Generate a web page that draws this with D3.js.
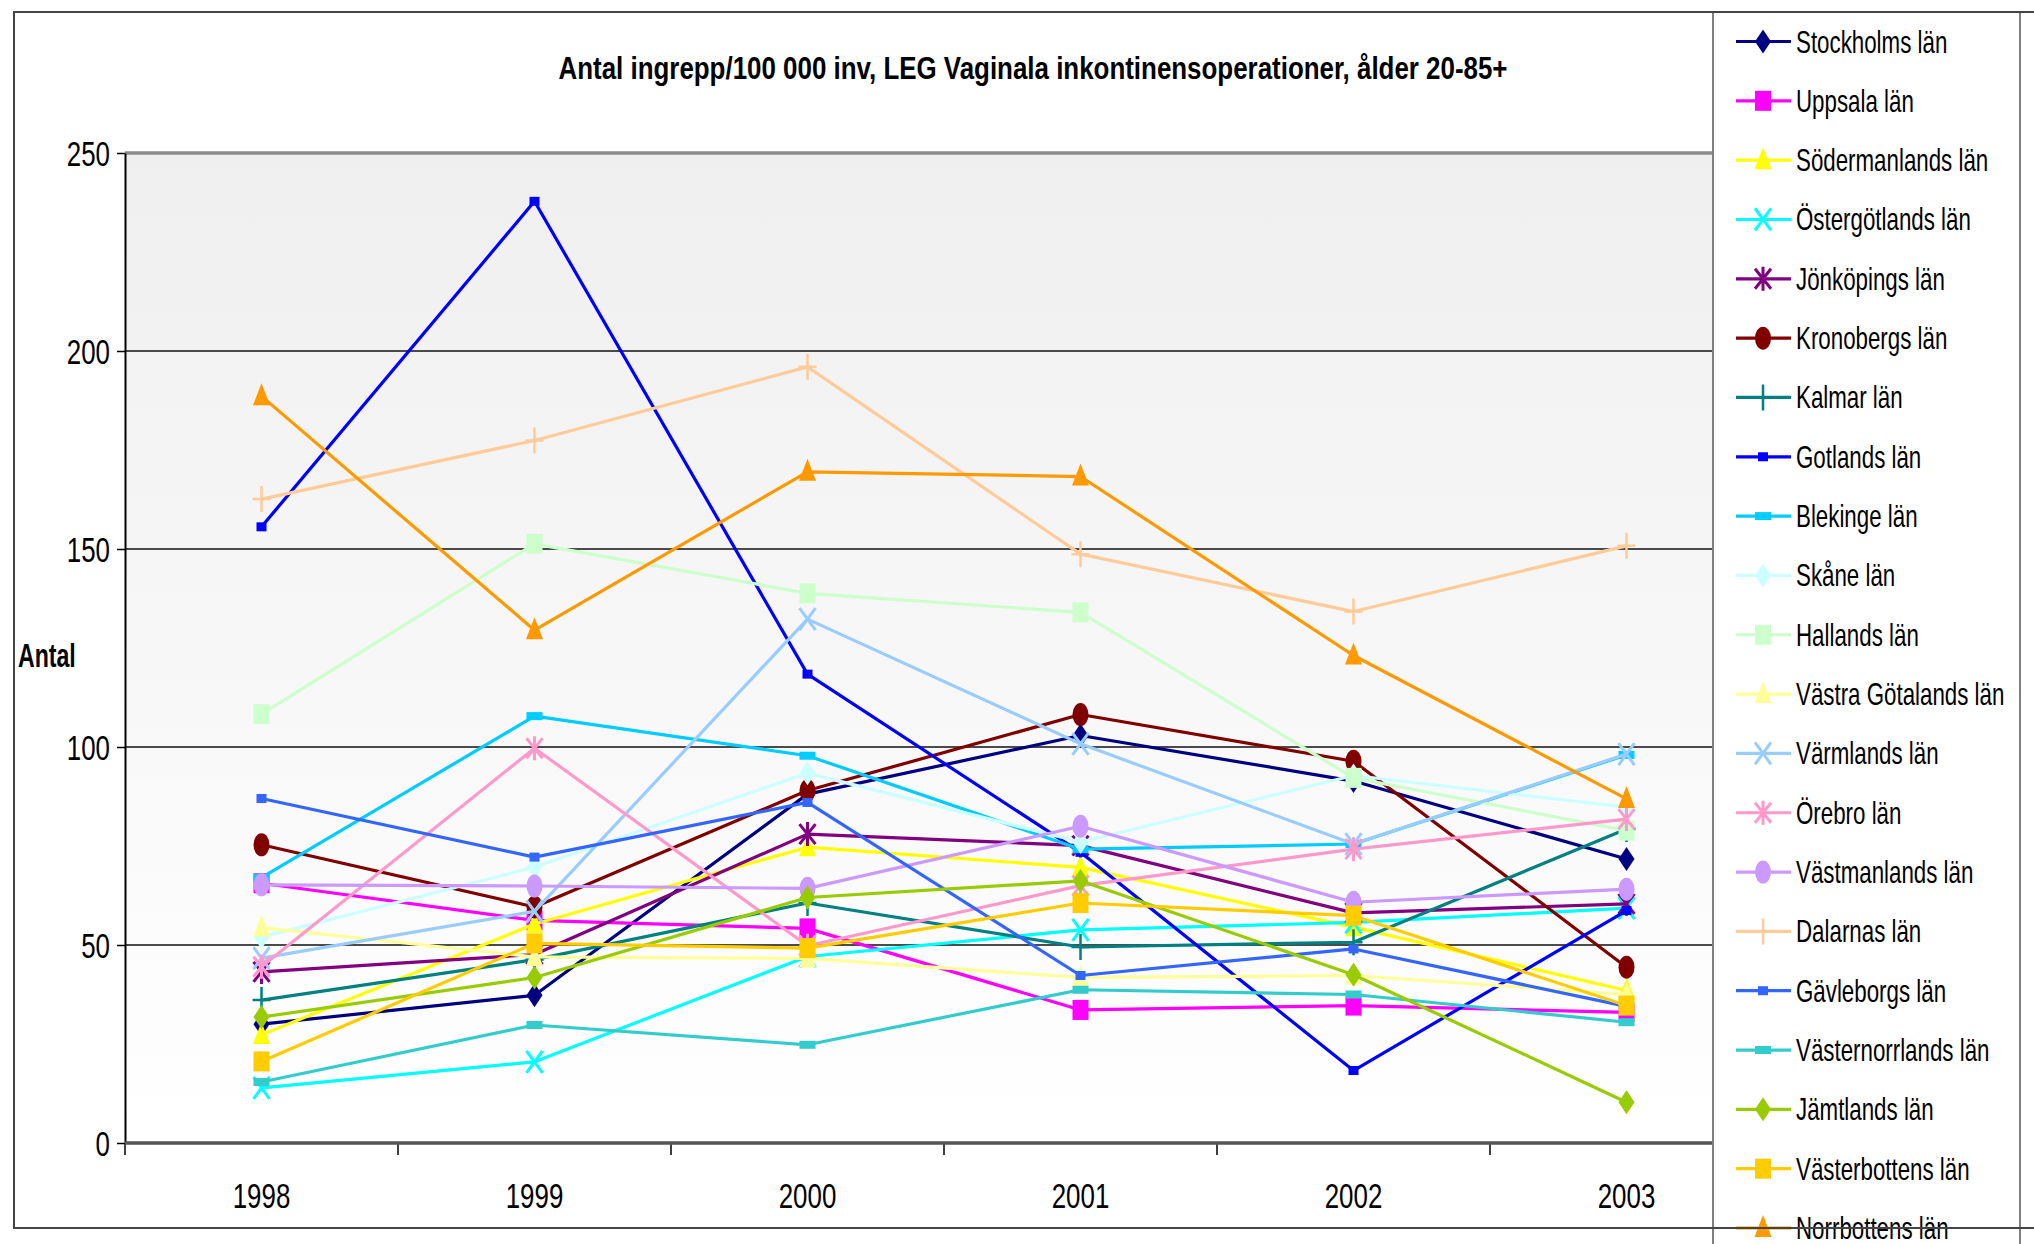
<!DOCTYPE html>
<html><head><meta charset="utf-8">
<script src="https://cdn.jsdelivr.net/npm/d3@7"></script>
<style>
body{margin:0;background:#fff}
svg{display:block}
text{font-family:"Liberation Sans",Arial,sans-serif;fill:#000}
</style>
</head><body>
<svg id="chart" width="2034" height="1244"></svg>
<script>
// ---------- DATA ----------
const years = ["1998","1999","2000","2001","2002","2003"];
const yTicks = [0,50,100,150,200,250];
const titleText = "Antal ingrepp/100 000 inv, LEG Vaginala inkontinensoperationer, ålder 20-85+";
const yTitle = "Antal";
const counties = ["Stockholms län","Uppsala län","Södermanlands län","Östergötlands län","Jönköpings län",
  "Kronobergs län","Kalmar län","Gotlands län","Blekinge län","Skåne län","Hallands län",
  "Västra Götalands län","Värmlands län","Örebro län","Västmanlands län","Dalarnas län",
  "Gävleborgs län","Västernorrlands län","Jämtlands län","Västerbottens län","Norrbottens län"];

const stockholms      = [30.0, 37.3, 88.1, 102.9, 91.4, 71.7];
const uppsala         = [65.6, 56.2, 54.2, 33.6, 34.7, 33.0];
const sodermanlands   = [27.3, 55.3, 74.7, 69.6, 54.5, 38.5];
const ostergotlands   = [13.9, 20.5, 47.1, 53.8, 55.7, 59.3];
const jonkopings      = [43.2, 47.6, 78.0, 75.1, 58.1, 60.4];
const kronobergs      = [75.3, 59.6, 89.0, 108.2, 96.4, 44.4];
const kalmar          = [36.1, 46.3, 60.6, 49.5, 50.7, 79.3];
const gotlands        = [155.6, 237.8, 118.4, 73.4, 18.3, 58.7];
const blekinge        = [67.0, 107.8, 97.8, 74.2, 75.5, 98.0];
const skane           = [52.0, 69.7, 93.4, 76.0, 92.8, 84.8];
const hallands        = [108.3, 151.3, 138.8, 134.0, 92.2, 78.9];
const vastraGotalands = [54.4, 47.0, 46.6, 41.8, 42.3, 37.5];
const varmlands       = [46.7, 58.5, 132.3, 100.8, 75.5, 98.2];
const orebro          = [44.5, 99.7, 49.8, 65.0, 74.2, 81.8];
const vastmanlands    = [65.2, 64.9, 64.3, 80.0, 60.8, 64.1];
const dalarnas        = [162.6, 177.4, 196.0, 148.7, 134.2, 150.8];
const gavleborgs      = [87.0, 72.2, 86.0, 42.3, 49.0, 34.5];
const vasternorrlands = [15.4, 29.8, 24.8, 38.7, 37.5, 30.5];
const jamtlands       = [31.8, 41.8, 62.0, 66.2, 42.5, 10.3];
const vasterbottens   = [20.6, 50.4, 49.2, 60.6, 57.4, 34.7];
const norrbottens     = [188.6, 129.5, 169.5, 168.3, 123.1, 86.9];

const seriesValues = [stockholms, uppsala, sodermanlands, ostergotlands, jonkopings, kronobergs,
  kalmar, gotlands, blekinge, skane, hallands, vastraGotalands, varmlands, orebro, vastmanlands,
  dalarnas, gavleborgs, vasternorrlands, jamtlands, vasterbottens, norrbottens];

// ---------- STYLE ----------
const colors = ["#000080","#FF00FF","#FFFF00","#00FFFF","#800080","#800000","#008080","#0000FF",
  "#00CCFF","#CCFFFF","#CCFFCC","#FFFF99","#99CCFF","#FF99CC","#CC99FF","#FFCC99","#3366FF",
  "#33CCCC","#99CC00","#FFCC00","#FF9900"];
const markers = ["diamond","square","triangle","x","star","circle","plus","smallsq","dash","diamond",
  "square","triangle","x","star","circle","plus","smallsq","dash","diamond","square","triangle"];

const series = counties.map((name,i)=>({name, values: seriesValues[i], color: colors[i], marker: markers[i]}));

// ---------- LAYOUT ----------
const svg = d3.select("#chart");
const W = 2034, H = 1244;
const plot = {left:125, right:1763, top:153, bottom:1143};
const x = d3.scaleBand().domain(years).range([plot.left, plot.right]).padding(0);
const y = d3.scaleLinear().domain([0,250]).range([plot.bottom, plot.top]);
const cx = d => x(d) + x.bandwidth()/2;
const SQ = 0.74; // horizontal squeeze of the rendered text

const defs = svg.append("defs");
const grad = defs.append("linearGradient").attr("id","bg").attr("x1",0).attr("y1",0).attr("x2",0).attr("y2",1);
grad.append("stop").attr("offset","0%").attr("stop-color","#efefef");
grad.append("stop").attr("offset","100%").attr("stop-color","#ffffff");

// plot background
svg.append("rect").attr("x",plot.left).attr("y",plot.top)
  .attr("width",plot.right-plot.left).attr("height",plot.bottom-plot.top).attr("fill","url(#bg)");

// gridlines
svg.append("g").selectAll("line").data(yTicks.filter(t=>t>0 && t<250)).join("line")
  .attr("x1",plot.left).attr("x2",plot.right).attr("y1",d=>y(d)).attr("y2",d=>y(d))
  .attr("stroke","#111").attr("stroke-width",1.3);
// top border of plot area
svg.append("line").attr("x1",plot.left).attr("x2",plot.right).attr("y1",y(250)).attr("y2",y(250))
  .attr("stroke","#8c8c8c").attr("stroke-width",3.5);

// y axis
const yAxis = svg.append("g").attr("transform",`translate(${plot.left},0)`)
  .call(d3.axisLeft(y).tickValues(yTicks).tickSize(8).tickSizeOuter(0));
yAxis.select(".domain").attr("stroke","#000").attr("stroke-width",2);
yAxis.selectAll(".tick line").attr("stroke","#000").attr("stroke-width",1.5);
yAxis.selectAll(".tick text").attr("font-size",35).attr("font-family","Liberation Sans, Arial, sans-serif")
  .attr("fill","#000").attr("x",-15/SQ).attr("dy","0.36em").attr("transform",`scale(${SQ},1)`);

// x axis: labels at band centres, ticks at band boundaries
const xAxis = svg.append("g").attr("transform",`translate(0,${plot.bottom})`)
  .call(d3.axisBottom(x).tickSize(0).tickPadding(0));
xAxis.select(".domain").remove();
xAxis.selectAll(".tick text").attr("font-size",35).attr("font-family","Liberation Sans, Arial, sans-serif")
  .attr("fill","#000").attr("dy",0).attr("y",65).attr("transform",`scale(${SQ},1)`);
const bounds = years.map(d=>x(d)).concat([plot.right]);
svg.append("g").selectAll("line").data(bounds).join("line")
  .attr("x1",d=>d).attr("x2",d=>d).attr("y1",plot.bottom).attr("y2",plot.bottom+12)
  .attr("stroke","#000").attr("stroke-width",1.5);
svg.append("line").attr("x1",plot.left).attr("x2",plot.right).attr("y1",plot.bottom).attr("y2",plot.bottom)
  .attr("stroke","#555").attr("stroke-width",3.5);

// marker drawing
function drawMarker(g, type, color){
  switch(type){
    case "diamond": g.append("path").attr("d","M0,-12L8,0L0,12L-8,0Z").attr("fill",color); break;
    case "square": g.append("rect").attr("x",-8).attr("y",-10).attr("width",16).attr("height",20).attr("fill",color); break;
    case "triangle": g.append("path").attr("d","M0,-13L8.5,9L-8.5,9Z").attr("fill",color); break;
    case "circle": g.append("ellipse").attr("rx",8).attr("ry",11.5).attr("fill",color); break;
    case "x":
      g.append("path").attr("d","M-8,-11L8,11M-8,11L8,-11").attr("stroke",color).attr("stroke-width",3).attr("fill","none"); break;
    case "star":
      g.append("path").attr("d","M-8,-10L8,10M-8,10L8,-10M0,-12L0,12").attr("stroke",color).attr("stroke-width",3).attr("fill","none"); break;
    case "plus":
      g.append("path").attr("d","M0,-13L0,13M-9,0L9,0").attr("stroke",color).attr("stroke-width",2.5).attr("fill","none"); break;
    case "smallsq": g.append("rect").attr("x",-5).attr("y",-4.5).attr("width",10).attr("height",9).attr("fill",color); break;
    case "dash": g.append("rect").attr("x",-8).attr("y",-4).attr("width",16).attr("height",8).attr("fill",color); break;
  }
}

// series
const line = d3.line().x((v,i)=>cx(years[i])).y(v=>y(v));
series.forEach(s=>{
  const g = svg.append("g");
  g.append("path").attr("d",line(s.values)).attr("fill","none").attr("stroke",s.color)
    .attr("stroke-width",3.2).attr("stroke-linejoin","round");
  s.values.forEach((v,i)=>{
    const mg = g.append("g").attr("transform",`translate(${cx(years[i])},${y(v)})`);
    drawMarker(mg, s.marker, s.color);
  });
});

// title
svg.append("text").attr("x",1033).attr("y",79).attr("text-anchor","middle")
  .attr("font-size",31).attr("font-weight","bold")
  .attr("textLength",949).attr("lengthAdjust","spacingAndGlyphs").text(titleText);

// y axis title
svg.append("text").attr("transform",`translate(18,667) scale(0.68,1)`)
  .attr("font-size",34).attr("font-weight","bold").text(yTitle);

// legend
const legX = 1713, legY = 12, legW = 307;
svg.append("rect").attr("x",legX).attr("y",legY).attr("width",legW).attr("height",H-legY+10)
  .attr("fill","#fff").attr("stroke","#808080").attr("stroke-width",2);
const legStep = (1228-41.5)/(series.length-1);
series.forEach((s,i)=>{
  const ly = 41.5 + i*legStep;
  const g = svg.append("g");
  g.append("line").attr("x1",1736).attr("x2",1791).attr("y1",ly).attr("y2",ly)
    .attr("stroke",s.color).attr("stroke-width",3.2);
  const mg = g.append("g").attr("transform",`translate(1763,${ly})`);
  drawMarker(mg, s.marker, s.color);
  g.append("text").attr("transform",`translate(1796,${ly+11}) scale(0.72,1)`)
    .attr("font-size",31).text(s.name);
});

// chart outer border (drawn over the legend)
svg.append("path").attr("d",`M${W+2},12L14,12L14,1228L${W+2},1228`)
  .attr("fill","none").attr("stroke","#444").attr("stroke-width",2);
</script>
</body></html>
